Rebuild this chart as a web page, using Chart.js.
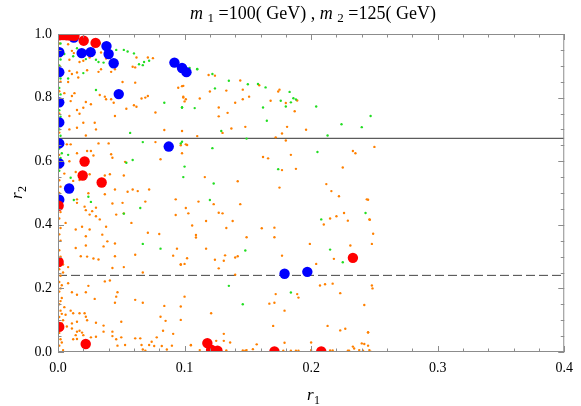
<!DOCTYPE html>
<html>
<head>
<meta charset="utf-8">
<script src="https://cdn.jsdelivr.net/npm/chart.js@4"></script>
<style>
html, body { margin: 0; padding: 0; background: #fff; }
</style>
</head>
<body>
<canvas id="myChart" width="581" height="406"></canvas>
<script>
// axis ranges and tick labels
const xRange = [0, 0.4];
const yRange = [0, 1.0];
const xTickLabels = ['0.0', '0.1', '0.2', '0.3', '0.4'];
const yTickLabels = ['0.0', '0.2', '0.4', '0.6', '0.8', '1.0'];

// reference lines (r2 values)
const solidLineY = 0.672;
const dashedLineY = 0.241;

// big red points [r1, r2]
const redPts = [
    [0.001, 0.996], [0.004, 0.997], [0.007, 0.996], [0.010, 0.995], [0.013, 0.994],
    [0.0203, 0.979], [0.0297, 0.972], [0.021, 0.599], [0.0195, 0.555], [0.0345, 0.533],
    [0.0005, 0.46], [0.0005, 0.283], [0.001, 0.079], [0.0219, 0.025], [0.233, 0.296],
    [0.118, 0.028], [0.121, 0.007], [0.126, 0.004], [0.171, 0.002], [0.208, 0.002]
];

// big blue points
const bluePts = [
    [0.0125, 0.989], [0.0383, 0.962], [0.040, 0.937], [0.0187, 0.94], [0.0258, 0.943],
    [0.044, 0.908], [0.001, 0.943], [0.001, 0.88], [0.048, 0.811], [0.001, 0.785],
    [0.001, 0.722], [0.092, 0.91], [0.098, 0.893], [0.1015, 0.88], [0.001, 0.656],
    [0.0875, 0.646], [0.001, 0.593], [0.0088, 0.514], [0.001, 0.479],
    [0.179, 0.246], [0.197, 0.252]
];

// small green points
const greenPts = [
    [0.023, 0.982], [0.02, 0.971], [0.033, 0.971], [0.005, 0.937], [0.022, 0.921], [0.03, 0.919],
    [0.032, 0.912], [0.036, 0.91], [0.041, 0.912], [0.046, 0.95], [0.052, 0.95], [0.055, 0.945],
    [0.06, 0.939], [0.064, 0.905], [0.068, 0.912], [0.072, 0.916], [0.067, 0.902], [0.02, 0.877],
    [0.03, 0.824], [0.084, 0.784], [0.098, 0.768], [0.057, 0.689], [0.097, 0.656], [0.11, 0.889],
    [0.103, 0.886], [0.008, 0.86], [0.012, 0.93], [0.015, 0.955],
    [0.104, 0.893], [0.11, 0.89], [0.122, 0.874], [0.135, 0.853], [0.15, 0.842], [0.158, 0.843],
    [0.164, 0.832], [0.124, 0.829], [0.183, 0.818], [0.176, 0.79], [0.18, 0.772], [0.184, 0.785],
    [0.186, 0.798], [0.188, 0.794], [0.204, 0.772], [0.098, 0.77], [0.108, 0.767], [0.162, 0.769],
    [0.165, 0.727], [0.129, 0.695], [0.224, 0.716], [0.24, 0.707], [0.247, 0.742], [0.213, 0.681],
    [0.149, 0.671], [0.098, 0.661], [0.122, 0.641],
    [0.205, 0.629], [0.1, 0.583], [0.174, 0.575], [0.099, 0.55], [0.123, 0.53], [0.12, 0.478],
    [0.243, 0.437], [0.208, 0.417], [0.215, 0.322], [0.148, 0.319], [0.225, 0.282],
    [0.135, 0.208], [0.184, 0.187], [0.146, 0.15],
    [0.067, 0.66], [0.059, 0.604], [0.054, 0.595], [0.008, 0.62], [0.003, 0.625], [0.01, 0.548],
    [0.024, 0.488], [0.026, 0.472], [0.0125, 0.478], [0.065, 0.453], [0.052, 0.435], [0.067, 0.34],
    [0.081, 0.325],
    [0.001, 0.99], [0.002, 0.97], [0.001, 0.955], [0.002, 0.92], [0.001, 0.9], [0.002, 0.86],
    [0.001, 0.83], [0.002, 0.81], [0.001, 0.76], [0.002, 0.74], [0.001, 0.7], [0.002, 0.68],
    [0.001, 0.64], [0.002, 0.61], [0.001, 0.57]
];

// small orange points
const orangePts = [
    [0.008, 0.968], [0.011, 0.947], [0.0125, 0.94], [0.017, 0.933], [0.009, 0.919], [0.017, 0.912],
    [0.02, 0.916], [0.025, 0.926], [0.034, 0.942], [0.038, 0.923], [0.062, 0.926], [0.071, 0.926],
    [0.075, 0.924], [0.059, 0.897], [0.061, 0.895], [0.034, 0.889], [0.042, 0.881], [0.045, 0.889],
    [0.032, 0.881], [0.009, 0.884], [0.011, 0.874], [0.015, 0.879], [0.023, 0.886], [0.016, 0.863],
    [0.008, 0.849], [0.051, 0.849], [0.061, 0.847], [0.005, 0.814], [0.013, 0.814], [0.011, 0.805],
    [0.01, 0.789], [0.022, 0.786], [0.02, 0.768], [0.015, 0.761], [0.026, 0.779], [0.033, 0.808],
    [0.037, 0.803], [0.038, 0.795], [0.042, 0.795], [0.044, 0.784], [0.06, 0.776], [0.062, 0.771],
    [0.066, 0.797], [0.069, 0.8], [0.071, 0.805], [0.054, 0.765], [0.045, 0.742], [0.095, 0.831],
    [0.099, 0.837], [0.099, 0.803], [0.101, 0.795], [0.077, 0.753], [0.009, 0.742], [0.017, 0.749],
    [0.029, 0.721], [0.03, 0.7], [0.015, 0.705], [0.009, 0.7], [0.02, 0.721], [0.022, 0.681],
    [0.084, 0.698], [0.098, 0.695], [0.01, 0.653], [0.077, 0.66],
    [0.119, 0.871], [0.124, 0.869], [0.144, 0.854], [0.159, 0.839], [0.098, 0.836], [0.146, 0.825],
    [0.151, 0.803], [0.133, 0.822], [0.12, 0.819], [0.099, 0.8], [0.1, 0.788], [0.112, 0.797],
    [0.146, 0.795], [0.168, 0.79], [0.174, 0.819], [0.175, 0.825], [0.18, 0.783], [0.189, 0.791],
    [0.187, 0.757], [0.14, 0.784], [0.127, 0.769], [0.127, 0.741], [0.134, 0.752], [0.137, 0.703],
    [0.148, 0.708], [0.181, 0.708], [0.196, 0.699], [0.13, 0.689], [0.177, 0.687], [0.11, 0.679],
    [0.172, 0.675], [0.18, 0.665], [0.097, 0.65], [0.102, 0.651], [0.25, 0.645],
    [0.098, 0.625], [0.162, 0.613], [0.166, 0.609], [0.184, 0.62], [0.233, 0.632], [0.235, 0.625],
    [0.177, 0.572], [0.188, 0.576], [0.225, 0.58], [0.116, 0.55], [0.142, 0.537], [0.175, 0.517],
    [0.212, 0.528], [0.216, 0.506], [0.222, 0.49], [0.111, 0.473], [0.123, 0.465], [0.144, 0.465],
    [0.244, 0.48], [0.101, 0.453], [0.127, 0.438], [0.13, 0.436], [0.226, 0.437], [0.22, 0.427],
    [0.246, 0.417], [0.215, 0.42], [0.229, 0.413], [0.117, 0.412], [0.138, 0.412], [0.21, 0.401],
    [0.133, 0.39], [0.161, 0.389], [0.171, 0.391], [0.249, 0.372], [0.109, 0.368], [0.109, 0.36],
    [0.149, 0.361], [0.171, 0.361], [0.248, 0.34], [0.199, 0.34], [0.231, 0.335], [0.117, 0.325],
    [0.132, 0.304], [0.14, 0.297], [0.142, 0.301], [0.177, 0.303], [0.102, 0.295], [0.124, 0.29],
    [0.131, 0.287], [0.218, 0.293], [0.204, 0.277], [0.097, 0.276], [0.1, 0.277], [0.127, 0.263],
    [0.14, 0.243], [0.207, 0.209], [0.211, 0.213], [0.217, 0.215], [0.223, 0.185], [0.248, 0.209],
    [0.172, 0.182], [0.1, 0.174], [0.189, 0.182], [0.19, 0.171], [0.097, 0.143], [0.167, 0.152],
    [0.171, 0.155], [0.242, 0.148], [0.121, 0.122], [0.179, 0.13], [0.097, 0.101], [0.17, 0.082],
    [0.213, 0.082], [0.223, 0.068], [0.227, 0.073], [0.245, 0.062], [0.131, 0.057], [0.125, 0.035],
    [0.131, 0.035], [0.136, 0.03], [0.105, 0.021], [0.112, 0.006], [0.146, 0.005], [0.148, 0.004],
    [0.154, 0.009], [0.157, 0.024], [0.179, 0.029], [0.178, 0.004], [0.184, 0.004], [0.188, 0.004],
    [0.19, 0.004], [0.2, 0.03], [0.2, 0.006], [0.215, 0.005], [0.217, 0.005], [0.229, 0.004],
    [0.23, 0.004], [0.233, 0.017], [0.234, 0.011], [0.24, 0.027], [0.242, 0.025], [0.238, 0.006],
    [0.241, 0.004], [0.246, 0.006], [0.133, 0.005], [0.149, 0.006],
    [0.245, 0.479], [0.2464, 0.416], [0.2485, 0.2], [0.245, 0.061], [0.245, 0.02], [0.247, 0.001],
    [0.007, 0.653], [0.023, 0.632], [0.026, 0.632], [0.032, 0.656], [0.04, 0.656], [0.101, 0.653],
    [0.015, 0.625], [0.009, 0.6], [0.028, 0.618], [0.042, 0.622], [0.043, 0.611], [0.053, 0.598],
    [0.081, 0.606], [0.005, 0.561], [0.014, 0.566], [0.012, 0.538], [0.017, 0.541], [0.025, 0.559],
    [0.037, 0.555], [0.041, 0.559], [0.052, 0.555], [0.045, 0.511], [0.055, 0.504], [0.059, 0.511],
    [0.063, 0.506], [0.072, 0.511], [0.024, 0.499], [0.015, 0.48], [0.015, 0.469], [0.037, 0.496],
    [0.021, 0.457], [0.022, 0.446], [0.027, 0.443], [0.03, 0.454], [0.043, 0.467], [0.051, 0.469],
    [0.069, 0.473], [0.093, 0.48], [0.025, 0.432], [0.03, 0.427], [0.033, 0.417], [0.046, 0.432],
    [0.052, 0.436], [0.058, 0.406], [0.093, 0.431], [0.103, 0.436], [0.106, 0.398], [0.006, 0.406],
    [0.014, 0.385], [0.025, 0.385], [0.019, 0.394], [0.038, 0.394], [0.035, 0.369], [0.022, 0.364],
    [0.039, 0.348], [0.036, 0.332], [0.014, 0.327], [0.022, 0.335], [0.045, 0.341], [0.071, 0.375],
    [0.08, 0.371], [0.018, 0.301], [0.023, 0.3], [0.028, 0.294], [0.032, 0.291], [0.045, 0.301],
    [0.061, 0.306], [0.091, 0.303], [0.094, 0.325], [0.004, 0.275], [0.043, 0.264], [0.052, 0.267],
    [0.008, 0.267], [0.097, 0.274], [0.004, 0.25], [0.067, 0.25], [0.008, 0.216], [0.024, 0.208],
    [0.037, 0.222], [0.041, 0.225], [0.015, 0.18], [0.022, 0.188], [0.011, 0.188], [0.047, 0.188],
    [0.046, 0.174], [0.045, 0.155], [0.029, 0.167], [0.061, 0.164], [0.067, 0.155], [0.084, 0.145],
    [0.005, 0.141], [0.01, 0.13], [0.006, 0.117], [0.012, 0.122], [0.017, 0.122], [0.021, 0.122],
    [0.022, 0.111], [0.023, 0.1], [0.015, 0.095], [0.011, 0.09], [0.03, 0.092], [0.036, 0.083],
    [0.05, 0.095], [0.081, 0.111], [0.085, 0.098], [0.007, 0.08], [0.011, 0.074], [0.015, 0.064],
    [0.017, 0.067], [0.019, 0.061], [0.02, 0.053], [0.014, 0.053], [0.012, 0.04], [0.015, 0.041],
    [0.026, 0.046], [0.03, 0.048], [0.036, 0.064], [0.043, 0.064], [0.043, 0.05], [0.046, 0.04],
    [0.05, 0.046], [0.047, 0.02], [0.053, 0.022], [0.061, 0.043], [0.065, 0.043], [0.066, 0.022],
    [0.067, 0.008], [0.069, 0.004], [0.072, 0.022], [0.074, 0.032], [0.076, 0.019], [0.078, 0.046],
    [0.082, 0.019], [0.086, 0.008], [0.09, 0.02], [0.083, 0.067], [0.091, 0.057], [0.105, 0.022],
    [0.004, 0.006],
    [0.001, 0.02], [0.002, 0.04], [0.001, 0.06], [0.003, 0.09], [0.001, 0.11], [0.002, 0.13],
    [0.001, 0.15], [0.003, 0.17], [0.001, 0.19], [0.002, 0.2], [0.001, 0.22], [0.002, 0.24],
    [0.001, 0.26], [0.002, 0.3], [0.001, 0.32], [0.002, 0.35], [0.001, 0.37], [0.002, 0.39],
    [0.001, 0.42], [0.002, 0.44], [0.001, 0.5], [0.002, 0.52], [0.001, 0.54], [0.002, 0.58],
    [0.001, 0.62], [0.002, 0.66], [0.001, 0.69], [0.002, 0.72], [0.001, 0.75], [0.002, 0.78],
    [0.001, 0.82], [0.002, 0.85], [0.001, 0.9], [0.002, 0.93], [0.001, 0.97],
    [0.003, 0.03], [0.002, 0.07], [0.003, 0.12], [0.002, 0.16], [0.003, 0.21], [0.004, 0.1]
];

const serif = "'Liberation Serif', 'Times New Roman', serif";

function toXY(list) {
    return list.map(p => ({ x: p[0], y: p[1] }));
}

// frame, ticks, title and axis labels (Mathematica style)
const framePlugin = {
    id: 'frame',
    afterDatasetsDraw(chart) {
        const ctx = chart.ctx;
        const a = chart.chartArea;
        const xs = chart.scales.x, ys = chart.scales.y;
        ctx.save();
        ctx.strokeStyle = '#8c8c8c';
        ctx.lineWidth = 1;
        ctx.strokeRect(a.left + 0.5, a.top + 0.5, a.right - a.left - 1, a.bottom - a.top - 1);
        ctx.beginPath();
        for (let i = 0; i <= 20; i++) {
            const px = Math.round(xs.getPixelForValue(i * 0.02)) + 0.5;
            const len = i % 5 === 0 ? 6 : 3.5;
            ctx.moveTo(px, a.bottom); ctx.lineTo(px, a.bottom - len);
            ctx.moveTo(px, a.top); ctx.lineTo(px, a.top + len);
        }
        for (let i = 0; i <= 20; i++) {
            const py = Math.round(ys.getPixelForValue(i * 0.05)) + 0.5;
            const len = i % 4 === 0 ? 6 : 3.5;
            ctx.moveTo(a.left, py); ctx.lineTo(a.left + len, py);
            ctx.moveTo(a.right, py); ctx.lineTo(a.right - len, py);
        }
        ctx.stroke();
        ctx.restore();
    },
    afterDraw(chart) {
        const ctx = chart.ctx;
        ctx.save();
        ctx.fillStyle = '#000';
        ctx.textBaseline = 'alphabetic';

        // title with subscripts
        const size = 18;
        const parts = [
            ['m', 'i'], [' ', 'n'], ['1', 's'], [' =100( GeV) , ', 'n'],
            ['m', 'i'], [' ', 'n'], ['2', 's'], [' =125( GeV)', 'n']
        ];
        const fontFor = s => (s === 'i' ? 'italic ' : '') + (s === 's' ? Math.round(size * 0.72) : size) + 'px ' + serif;
        let total = 0;
        parts.forEach(p => { ctx.font = fontFor(p[1]); total += ctx.measureText(p[0]).width; });
        let x = 313 - total / 2;
        const base = 19;
        parts.forEach(p => {
            ctx.font = fontFor(p[1]);
            ctx.fillText(p[0], x, p[1] === 's' ? base + 3 : base);
            x += ctx.measureText(p[0]).width;
        });

        // x axis label r1
        ctx.font = 'italic 17px ' + serif;
        ctx.fillText('r', 307, 400);
        ctx.font = '12px ' + serif;
        ctx.fillText('1', 314, 404);

        // y axis label r2 (rotated)
        ctx.translate(22, 199);
        ctx.rotate(-Math.PI / 2);
        ctx.font = 'italic 17px ' + serif;
        ctx.fillText('r', 0, 0);
        ctx.font = '12px ' + serif;
        ctx.fillText('2', 7, 4);
        ctx.restore();
    }
};

const ctx = document.getElementById('myChart').getContext('2d');
new Chart(ctx, {
    type: 'scatter',
    data: {
        datasets: [
            {
                label: 'red', data: toXY(redPts), order: 1, clip: 0,
                backgroundColor: '#ff0000', borderWidth: 0, pointRadius: 5.2
            },
            {
                label: 'blue', data: toXY(bluePts), order: 2, clip: 0,
                backgroundColor: '#0000ff', borderWidth: 0, pointRadius: 5.2
            },
            {
                label: 'green', data: toXY(greenPts), order: 3, clip: 0,
                backgroundColor: '#22dd22', borderWidth: 0, pointRadius: 1.2
            },
            {
                label: 'orange', data: toXY(orangePts), order: 4, clip: 0,
                backgroundColor: '#ff8000', borderWidth: 0, pointRadius: 1.2
            },
            {
                label: 'solid', order: 5, showLine: true, pointRadius: 0,
                data: [{ x: xRange[0], y: solidLineY }, { x: xRange[1], y: solidLineY }],
                borderColor: '#333', borderWidth: 1
            },
            {
                label: 'dashed', order: 6, showLine: true, pointRadius: 0,
                data: [{ x: xRange[0], y: dashedLineY }, { x: xRange[1], y: dashedLineY }],
                borderColor: '#444', borderWidth: 1, borderDash: [9, 4]
            }
        ]
    },
    options: {
        responsive: false,
        animation: false,
        devicePixelRatio: 1,
        layout: { padding: { top: 34, right: 11, left: 0, bottom: 0 } },
        plugins: { legend: { display: false }, tooltip: { enabled: false } },
        scales: {
            x: {
                min: xRange[0], max: xRange[1],
                afterFit: s => { s.height = 54; },
                grid: { display: false, drawTicks: false },
                border: { display: false },
                ticks: {
                    stepSize: 0.1, padding: 8, color: '#000',
                    font: { family: serif, size: 14 },
                    callback: (v) => xTickLabels[Math.round(v * 10)]
                }
            },
            y: {
                min: yRange[0], max: yRange[1],
                afterFit: s => { s.width = 58; },
                grid: { display: false, drawTicks: false },
                border: { display: false },
                ticks: {
                    stepSize: 0.2, padding: 6, color: '#000',
                    font: { family: serif, size: 14 },
                    callback: (v) => yTickLabels[Math.round(v * 5)]
                }
            }
        }
    },
    plugins: [framePlugin]
});
</script>
</body>
</html>
